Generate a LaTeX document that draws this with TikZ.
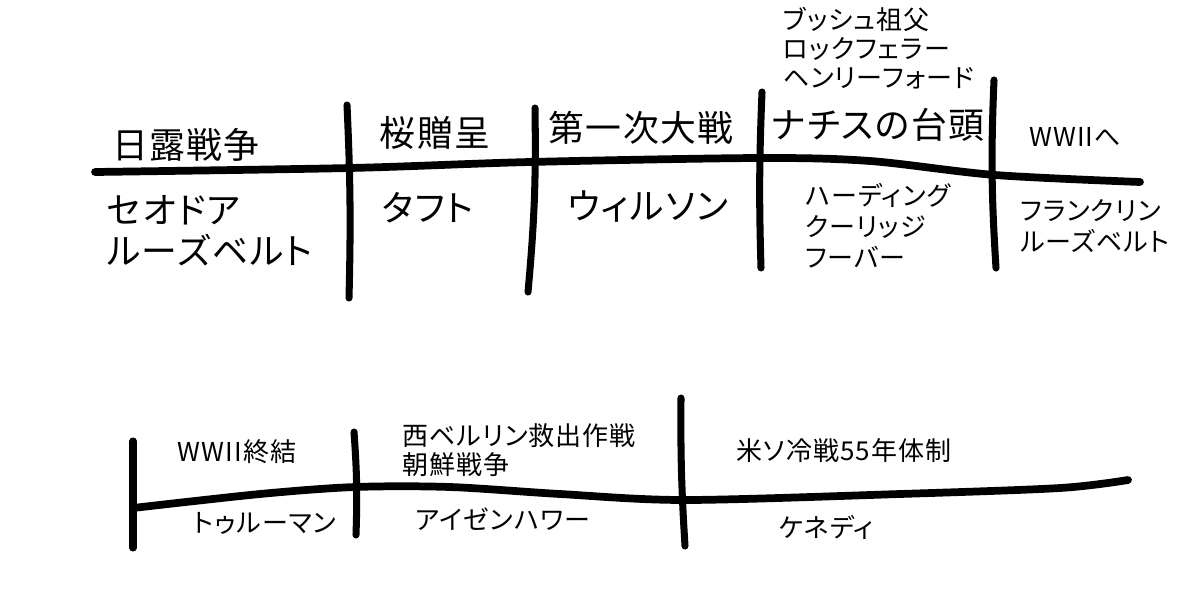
\documentclass[tikz,border=0pt]{standalone}
\usepackage{fontspec}
\setmainfont{Noto Sans CJK JP}[RawFeature=+palt, LetterSpace=4]
\usetikzlibrary{positioning}

\tikzset{
  bar/.style={line width=5.5pt, line cap=round, line join=round},
  tick/.style={line width=5pt, line cap=round},
  big/.style={inner sep=0pt, font=\fontsize{25.5}{29}\selectfont},
  small/.style={inner sep=0pt, align=left, font=\fontsize{18.5}{20.6}\selectfont}
}

\begin{document}
\begin{tikzpicture}[x=0.025cm, y=-0.025cm]
        \useasboundingbox (0,0) rectangle (1200,605);

        % upper time line
        \draw[bar] plot[smooth] coordinates {(95,172) (350,168) (530,162) (760,158) (870,161) (995,175) (1140,182)};
        \draw[tick] (347,105) to[bend left=2] (349,298);
        \draw[tick] (535,108) to[bend left=3] (528,292);
        \draw[tick] (762,92) to[bend right=2] (761,268);
        \draw[tick] (994,80) to[bend right=3] (996,268);

        \node[big] (war1) at (186,145) {日露戦争};
        \node[big, anchor=west, align=left, font=\fontsize{25.5}{29.5}\selectfont] (troos) at (107,231) {セオドア\\ルーズベルト};
        \node[big] (gift) at (435,133) {桜贈呈};
        \node[big] (taft) at (428,208) {タフト};
        \node[big] (wwi) at (641,128) {第一次大戦};
        \node[big] (wils) at (648,207) {ウィルソン};
        \node[small, anchor=west] (rich) at (783,48) {ブッシュ祖父\\ロックフェラー\\ヘンリーフォード};
        \node[big] (nazi) at (878,125) {ナチスの台頭};
        \node[small] (towar) at (1075,137) {WWIIへ};
        \node[small, anchor=west, font=\fontsize{18.5}{22}\selectfont] (hard) at (805,226) {ハーディング\\クーリッジ\\フーバー};
        \node[small, anchor=west, font=\fontsize{18.5}{21.5}\selectfont] (froos) at (1020,226) {フランクリン\\ルーズベルト};

        % lower time line
        \draw[bar] plot[smooth] coordinates {(133,508) (260,494) (355,487) (450,487) (560,494) (685,500) (900,494) (1060,488) (1128,480)};
        \draw[tick] (133,441) -- (133,548);
        \draw[tick] (354,432) to[bend left=3] (356,535);
        \draw[tick] (681,398) to[bend right=2] (685,546);

        \node[small] (wwend) at (237,452) {WWII終結};
        \node[small] (trum) at (265,523) {トゥルーマン};
        \node[small, anchor=west] (berl) at (402,450) {西ベルリン救出作戦\\朝鮮戦争};
        \node[small] (eise) at (503,519) {アイゼンハワー};
        \node[small] (cold) at (844,451) {米ソ冷戦55年体制};
        \node[small] (kenn) at (826,527) {ケネディ};
\end{tikzpicture}
\end{document}
